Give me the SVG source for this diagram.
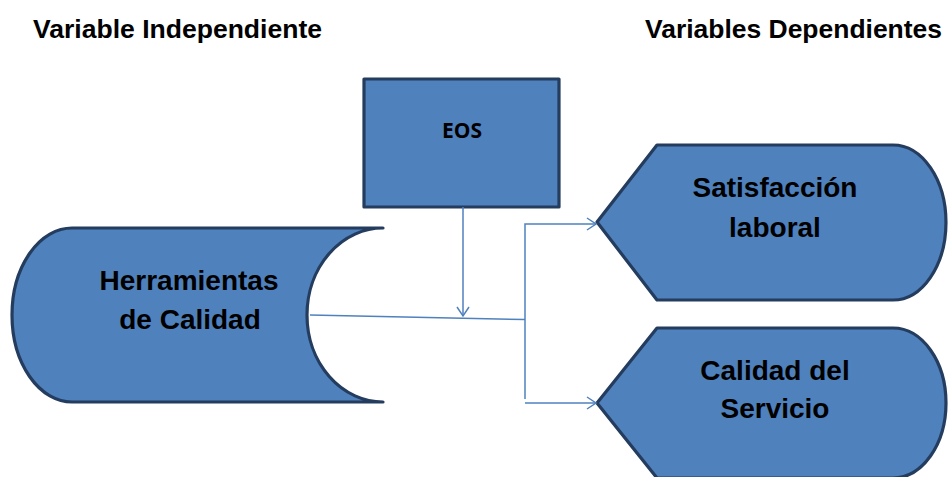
<svg xmlns="http://www.w3.org/2000/svg" width="948" height="477" viewBox="0 0 948 477">
<defs>
<style>
.shape{fill:#4F81BD;stroke:#243C5E;stroke-width:3.2;stroke-linejoin:round}
.lbl{font-family:"Liberation Sans",Arial,sans-serif;font-weight:bold;font-size:28px;fill:#000;text-anchor:middle}
.hdr{font-family:"Liberation Sans",Arial,sans-serif;font-weight:bold;font-size:26px;fill:#000}
.conn{fill:none;stroke:#4F81BD;stroke-width:1.5}
</style>
<marker id="arr" markerUnits="userSpaceOnUse" markerWidth="14" markerHeight="16" refX="10" refY="7" orient="auto">
<path d="M1,1 L10,7 L1,13" fill="none" stroke="#4F81BD" stroke-width="1.5"/>
</marker>
</defs>
<rect width="948" height="477" fill="#fff"/>
<text class="hdr" x="33" y="38" textLength="289" lengthAdjust="spacingAndGlyphs">Variable Independiente</text>
<text class="hdr" x="645" y="38" textLength="297" lengthAdjust="spacingAndGlyphs">Variables Dependientes</text>

<g id="herramientas">
<path class="shape" d="M72,228 L383,228 A76,87 0 0 0 383,402 L72,402 A60,87 0 0 1 72,228 Z"/>
<text class="lbl" x="189" y="290">Herramientas</text>
<text class="lbl" x="190" y="329">de Calidad</text>
</g>

<g id="eos">
<rect class="shape" x="364" y="79" width="195" height="128"/>
<text x="462" y="138" font-family="'Open Sans','Liberation Sans',sans-serif" font-weight="bold" font-size="21" text-anchor="middle" fill="#000">EOS</text>
</g>

<g id="satisfaccion">
<path class="shape" d="M597,222 L657,145 L893,145 A53,77.5 0 0 1 893,300 L657,300 Z"/>
<text class="lbl" x="775" y="197">Satisfacción</text>
<text class="lbl" x="775" y="237">laboral</text>
</g>

<g id="calidad-servicio">
<path class="shape" d="M597,403 L657,328 L893,328 A53,75 0 0 1 893,478 L657,478 Z"/>
<text class="lbl" x="775" y="380">Calidad del</text>
<text class="lbl" x="775" y="418">Servicio</text>
</g>

<g id="connectors">
<path class="conn" d="M463,207 L463,316" marker-end="url(#arr)"/>
<path class="conn" d="M310,315 L525,319.5"/>
<path class="conn" d="M525,399 L525,224 L596,224" marker-end="url(#arr)"/>
<path class="conn" d="M525,403 L596,403" marker-end="url(#arr)"/>
</g>
</svg>
